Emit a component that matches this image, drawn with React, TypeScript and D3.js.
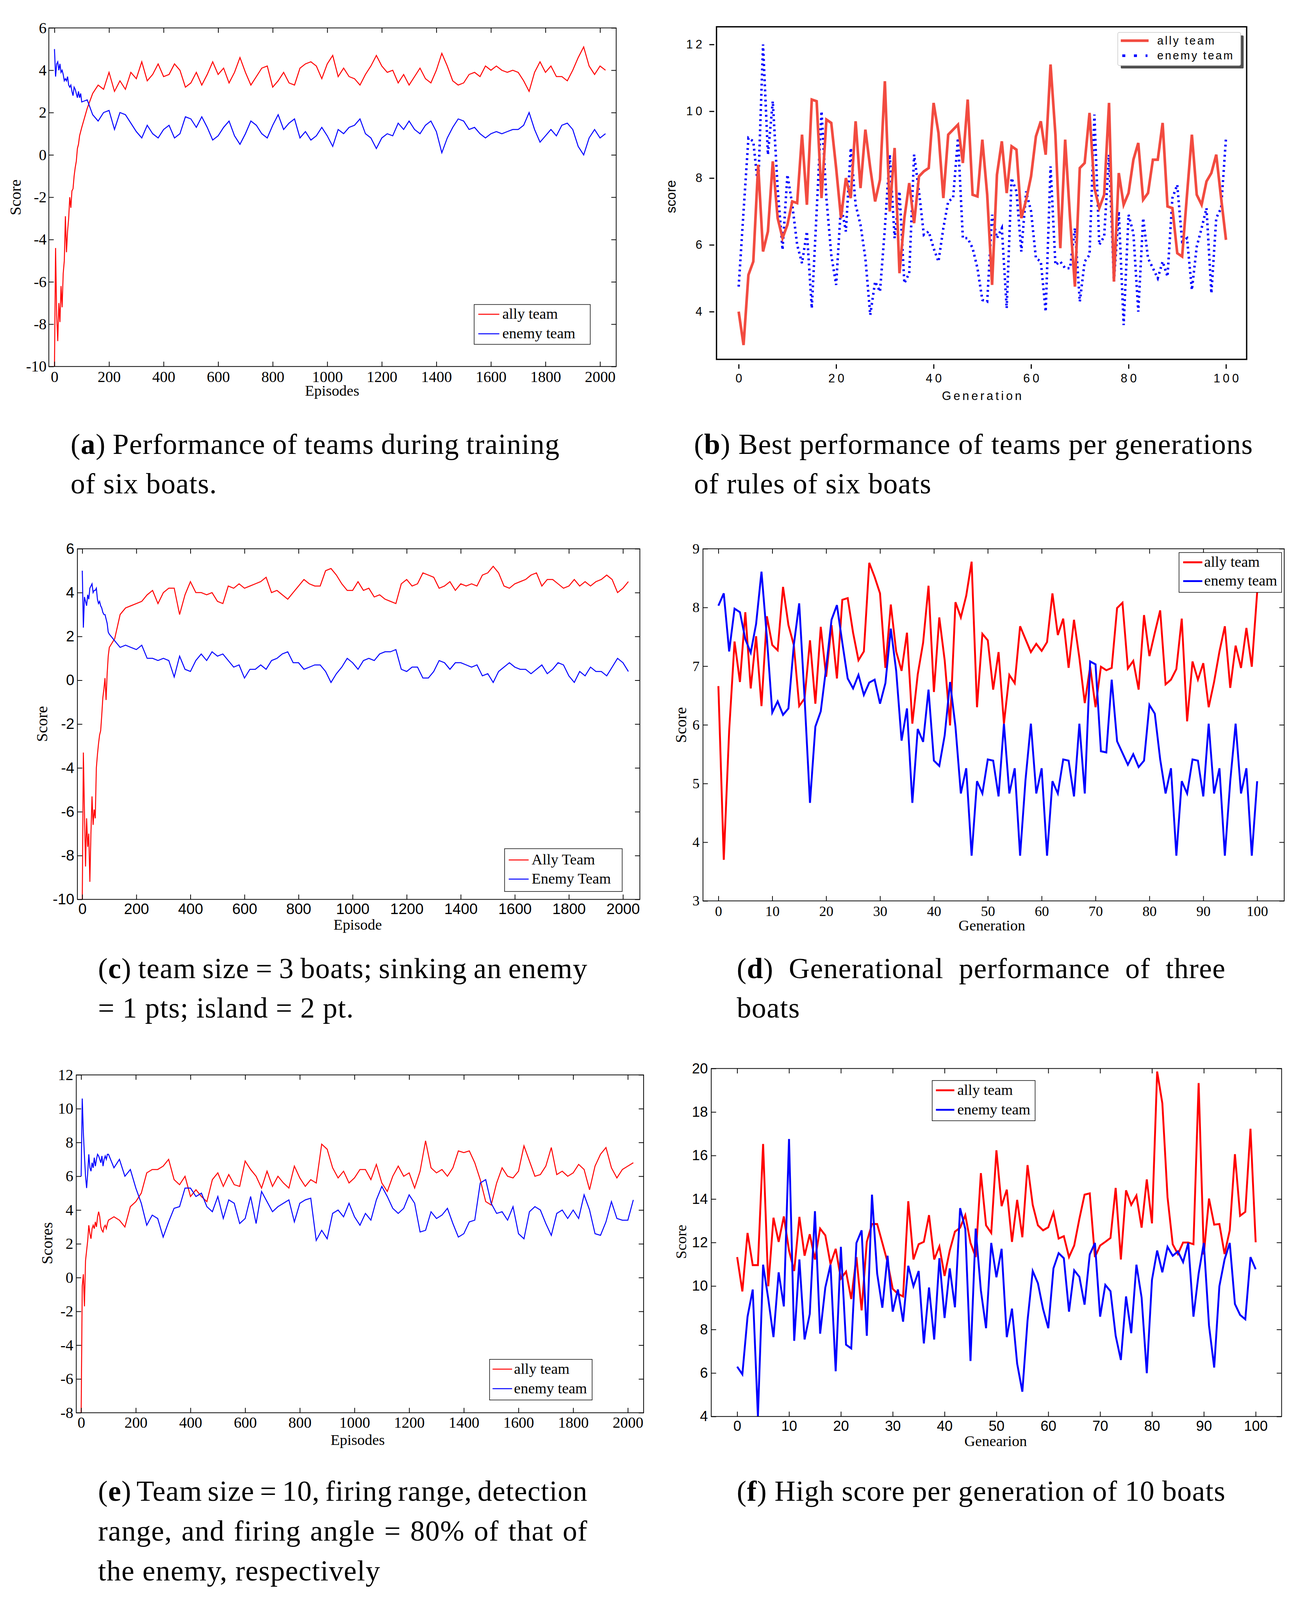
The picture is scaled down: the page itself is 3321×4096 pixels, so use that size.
import React, { useEffect, useRef } from 'react';
import * as d3 from 'd3';

// reference is 3452x4257, drawn through a viewBox into the 3321x4096 window
const REF_W = 3452;
const REF_H = 4257;
const OUT_W = 3321;
const OUT_H = 4096;

const SERIF = '"Liberation Serif", "Times New Roman", Times, serif';
const SANS = '"Liberation Sans", Arial, Helvetica, sans-serif';
const RED = '#ff0000';
const BLUE = '#0000ff';
const B_RED = '#f24b40';

// x positions of the training curves: every 4 episodes at the start, every 20 after
const EPISODES = [...d3.range(0, 100, 4), ...d3.range(100, 2021, 20)];
const GENERATIONS = d3.range(0, 101);

const EPISODE_TICKS = d3.range(0, 2001, 200);
const GEN_TICKS_10 = d3.range(0, 101, 10);
const GEN_TICKS_20 = d3.range(0, 101, 20);
const SCORE_TICKS_A = d3.range(-10, 7, 2);
const SCORE_TICKS_B = [4, 6, 8, 10, 12];
const SCORE_TICKS_D = d3.range(3, 10, 1);
const SCORE_TICKS_E = d3.range(-8, 13, 2);
const SCORE_TICKS_F = d3.range(4, 21, 2);

// (a) six boats training
const A_ALLY = [
  -10, -4.4, -7.6, -8.8, -7.0, -7.9, -6.2, -7.2, -5.6, -5.0, -2.9, -4.6, -3.6,
  -3.0, -2.0, -2.5, -1.7, -1.6, -1.0, -0.6, -0.3, 0.3, 0.5, 0.9, 1.1,
  1.3, 2.2, 2.9, 3.3, 3.1, 3.9, 3.0, 3.5, 3.1, 3.9,
  3.6, 4.4, 3.5, 3.8, 4.3, 3.7, 3.8, 4.3, 4.0, 3.2,
  3.4, 3.9, 3.3, 3.8, 4.4, 3.8, 4.1, 3.4, 3.9, 4.6,
  3.9, 3.3, 3.7, 4.1, 4.2, 3.2, 3.5, 3.9, 3.4, 3.3,
  4.1, 4.3, 4.4, 4.2, 3.6, 4.3, 4.7, 3.7, 4.1, 3.7,
  3.6, 3.3, 3.8, 4.2, 4.7, 4.2, 3.9, 4.0, 3.4, 3.8,
  3.3, 3.7, 4.1, 3.6, 3.4, 4.0, 4.8, 4.2, 3.5, 3.3,
  3.4, 3.8, 3.9, 3.7, 4.2, 4.0, 4.2, 4.0, 3.9, 4.0,
  3.9, 3.5, 3.0, 3.9, 4.4, 3.9, 4.2, 3.7, 3.7, 3.5,
  4.0, 4.6, 5.1, 4.2, 3.8, 4.2, 4.0,
];
const A_ENEMY = [
  5.0, 3.7, 4.3, 4.4, 4.0, 4.3, 3.9, 4.0, 3.8, 3.5, 3.6, 3.5, 3.7,
  3.3, 3.2, 3.3, 3.0, 2.8, 3.2, 3.1, 2.9, 2.7, 3.0, 2.7, 2.9,
  2.5, 2.6, 1.9, 1.6, 2.0, 2.1, 1.2, 2.0, 1.9, 1.5,
  1.1, 0.8, 1.4, 1.0, 0.8, 1.2, 1.4, 0.8, 1.0, 1.8,
  1.7, 1.3, 1.8, 1.3, 0.7, 0.9, 1.3, 1.6, 0.9, 0.5,
  1.0, 1.6, 1.4, 1.0, 0.8, 1.4, 1.9, 1.2, 1.5, 1.7,
  0.8, 1.1, 0.7, 0.9, 1.3, 0.9, 0.4, 1.2, 1.0, 1.3,
  1.4, 1.7, 1.0, 0.8, 0.3, 0.8, 1.0, 0.9, 1.5, 1.2,
  1.6, 1.2, 1.0, 1.4, 1.6, 1.1, 0.1, 0.8, 1.3, 1.7,
  1.6, 1.2, 1.3, 1.0, 0.8, 1.0, 1.1, 1.0, 1.1, 1.2,
  1.2, 1.4, 2.0, 1.2, 0.6, 0.9, 1.2, 0.9, 1.4, 1.5,
  1.2, 0.4, 0.0, 0.8, 1.2, 0.8, 1.0,
];

// (b) best per generation, six boats
const B_ALLY = [
  4.0, 3.0, 5.1, 5.5, 8.4, 5.8, 6.4, 8.5, 6.8, 6.2,
  6.6, 7.3, 7.25, 9.3, 7.2, 10.35, 10.3, 7.4, 9.75, 9.65,
  8.3, 6.8, 8.0, 7.4, 9.7, 7.7, 9.45, 8.3, 7.3, 7.95,
  10.9, 7.0, 8.9, 5.15, 6.8, 7.85, 6.65, 8.05, 8.2, 8.3,
  10.25, 9.35, 7.4, 9.3, 9.45, 9.6, 8.45, 10.35, 7.5, 7.45,
  9.15, 7.5, 4.8, 8.1, 9.1, 7.55, 8.95, 8.85, 6.8, 7.35,
  8.05, 9.25, 9.7, 8.7, 11.4, 9.3, 5.9, 9.15, 6.8, 4.75,
  8.3, 8.45, 9.95, 7.7, 7.1, 7.5, 10.25, 4.9, 8.15, 7.2,
  7.55, 8.55, 9.05, 7.35, 7.55, 8.55, 8.55, 9.65, 7.15, 7.1,
  5.75, 5.65, 7.5, 9.3, 7.5, 7.2, 7.9, 8.15, 8.7, 7.4,
  6.15,
];
const B_ENEMY = [
  4.75, 7.0, 9.2, 9.1, 7.7, 12.0, 8.7, 10.3, 7.7, 5.85,
  8.1, 7.2, 6.0, 5.45, 6.4, 4.1, 7.0, 10.0, 7.4, 5.7,
  4.8, 7.2, 6.4, 8.9, 7.2, 6.6, 5.6, 3.9, 4.9, 4.6,
  6.5, 8.7, 6.2, 7.6, 4.85, 5.15, 8.7, 7.6, 6.3, 6.4,
  5.9, 5.5, 6.5, 7.3, 7.4, 9.2, 6.2, 6.2, 5.9, 5.3,
  4.35, 4.3, 6.9, 6.2, 6.5, 4.1, 8.0, 7.6, 5.8, 7.6,
  7.0, 5.6, 5.5, 4.0, 8.35, 5.4, 5.5, 5.3, 5.3, 6.5,
  4.3, 5.5, 5.7, 9.9, 6.0, 6.25, 8.7, 4.9, 7.0, 3.6,
  6.9, 6.35, 4.0, 6.8, 5.6, 5.3, 5.0, 5.5, 5.05, 7.4,
  7.8, 6.1, 6.2, 4.65, 5.95, 6.5, 7.1, 4.55, 6.8, 7.1,
  9.2,
];

// (c) three boats training
const C_ALLY = [
  -10, -3.3, -6.0, -8.5, -6.3, -7.6, -7.0, -9.2, -7.0, -5.3, -6.6, -5.9, -6.3,
  -4.0, -3.4, -2.9, -2.5, -2.3, -1.6, -0.8, -0.4, 0.1, -0.9, 0.3, 1.1,
  1.5, 1.9, 3.0, 3.3, 3.4, 3.5, 3.6, 3.9, 4.1, 3.5,
  4.0, 4.2, 4.2, 3.0, 3.9, 4.5, 4.0, 4.0, 3.9, 4.0,
  3.6, 3.5, 4.3, 4.2, 4.4, 4.2, 4.3, 4.4, 4.5, 4.7,
  4.0, 4.1, 3.9, 3.7, 4.0, 4.3, 4.6, 4.4, 4.3, 4.3,
  5.0, 5.1, 4.8, 4.4, 4.1, 4.1, 4.5, 4.1, 4.2, 3.8,
  3.9, 3.7, 3.6, 3.5, 4.4, 4.6, 4.3, 4.4, 4.9, 4.8,
  4.7, 4.2, 4.3, 4.5, 4.1, 4.4, 4.3, 4.4, 4.3, 4.8,
  4.9, 5.2, 4.9, 4.3, 4.2, 4.4, 4.5, 4.6, 4.8, 4.9,
  4.3, 4.6, 4.6, 4.4, 4.2, 4.3, 4.6, 4.3, 4.5, 4.3,
  4.5, 4.6, 4.8, 4.6, 4.0, 4.2, 4.5,
];
const C_ENEMY = [
  5.0, 2.4, 3.8, 3.6, 3.4, 3.9, 3.7, 4.2, 4.3, 4.4, 4.0, 4.1, 4.1,
  4.2, 3.7, 3.5, 3.6, 3.4, 3.3, 3.1, 3.0, 3.0, 2.8, 2.6, 2.2,
  2.1, 1.8, 1.5, 1.6, 1.5, 1.4, 1.6, 1.0, 1.0, 0.9,
  1.0, 0.9, 0.15, 1.1, 0.5, 0.4, 0.9, 1.2, 0.9, 1.3,
  1.1, 1.2, 0.9, 0.6, 0.7, 0.1, 0.5, 0.5, 0.7, 0.5,
  0.9, 1.0, 1.2, 1.3, 0.8, 0.8, 0.5, 0.6, 0.7, 0.7,
  0.4, -0.1, 0.3, 0.6, 1.0, 0.8, 0.5, 0.9, 1.0, 0.9,
  1.2, 1.3, 1.3, 1.4, 0.5, 0.4, 0.6, 0.6, 0.1, 0.1,
  0.4, 0.9, 0.8, 0.5, 0.8, 0.8, 0.7, 0.6, 0.7, 0.2,
  0.3, -0.1, 0.4, 0.6, 0.8, 0.6, 0.5, 0.5, 0.3, 0.5,
  0.7, 0.3, 0.5, 0.8, 0.7, 0.2, -0.1, 0.4, 0.2, 0.6,
  0.4, 0.4, 0.2, 0.6, 1.0, 0.8, 0.4,
];

// (d) per generation, three boats
const D_ALLY = [
  6.66, 3.7, 5.9, 7.42, 6.73, 7.92, 6.62, 7.51, 6.32, 7.85,
  7.36, 7.27, 8.35, 7.7, 7.36, 6.32, 6.45, 7.44, 6.36, 7.67,
  6.82, 7.7, 6.79, 8.13, 8.16, 7.57, 7.1, 7.25, 8.76, 8.52,
  8.24, 6.97, 8.05, 7.25, 6.92, 7.57, 6.02, 6.86, 7.4, 8.37,
  6.56, 7.83, 7.1, 5.99, 8.09, 7.83, 8.2, 8.78, 6.3, 7.55,
  7.44, 6.6, 7.24, 6.02, 6.85, 6.71, 7.68, 7.46, 7.24, 7.38,
  7.26, 7.41, 8.24, 7.53, 7.81, 6.97, 7.79, 7.14, 6.37, 6.99,
  6.3, 6.99, 6.93, 6.97, 7.99, 8.08, 6.96, 7.09, 6.6, 7.87,
  7.17, 7.57, 7.95, 6.69, 6.77, 6.95, 7.81, 6.06, 7.08, 6.77,
  7.05, 6.3, 6.73, 7.25, 7.68, 6.63, 7.35, 6.97, 7.65, 6.99,
  8.26,
];
const D_ENEMY = [
  8.03, 8.24, 7.25, 7.98, 7.92, 7.46, 7.23, 7.72, 8.61, 7.49,
  6.21, 6.4, 6.17, 6.28, 7.36, 8.07, 6.45, 4.67, 5.97, 6.23,
  6.97, 7.79, 8.04, 7.4, 6.79, 6.62, 6.85, 6.51, 6.72, 6.77,
  6.36, 6.71, 7.64, 6.92, 5.73, 6.28, 4.67, 5.93, 5.71, 6.6,
  5.39, 5.3, 5.82, 6.73, 5.97, 4.83, 5.26, 3.77, 5.04, 4.83,
  5.41, 5.39, 4.78, 6.02, 4.83, 5.26, 3.77, 5.06, 6.02, 4.83,
  5.26, 3.77, 5.04, 4.83, 5.41, 5.39, 4.78, 6.02, 4.83, 7.08,
  7.03, 5.55, 5.53, 6.77, 5.72, 5.52, 5.32, 5.5, 5.28, 5.39,
  6.34, 6.19, 5.41, 4.83, 5.26, 3.77, 5.04, 4.83, 5.41, 5.39,
  4.78, 6.02, 4.83, 5.26, 3.77, 5.04, 6.02, 4.83, 5.26, 3.77,
  5.04,
];

// (e) ten boats training
const E_ALLY = [
  -8.0, -0.5, 0.2, -1.7, 1.0, 1.6, 2.2, 3.1, 2.6, 2.3, 2.9, 3.1, 2.9,
  3.3, 3.0, 3.6, 3.9, 3.6, 3.0, 2.8, 2.7, 3.0, 3.1, 2.9, 3.2,
  3.4, 3.6, 3.4, 3.0, 4.2, 4.5, 5.0, 6.2, 6.4, 6.4,
  6.6, 7.0, 5.8, 5.5, 6.0, 4.8, 5.2, 4.8, 4.5, 5.8,
  6.2, 5.4, 6.1, 5.5, 5.4, 6.9, 6.4, 6.0, 5.3, 6.3,
  5.4, 6.0, 5.6, 5.3, 6.6, 5.9, 5.4, 5.8, 5.6, 7.9,
  7.6, 6.5, 5.9, 6.3, 5.6, 5.9, 6.4, 6.4, 5.8, 6.7,
  5.6, 5.1, 6.0, 6.6, 6.0, 6.2, 5.3, 6.3, 8.1, 6.5,
  6.2, 6.4, 6.0, 6.5, 7.5, 7.4, 7.5, 6.8, 5.8, 4.5,
  4.3, 5.6, 6.5, 6.0, 5.9, 6.3, 7.8, 6.9, 6.0, 6.1,
  6.6, 7.7, 6.1, 6.3, 6.0, 6.2, 6.7, 6.4, 5.2, 6.6,
  7.3, 7.7, 6.5, 5.9, 6.4, 6.6, 6.8,
];
const E_ENEMY = [
  6.0, 10.6, 8.6, 7.2, 6.0, 5.3, 6.2, 7.3, 6.5, 6.3, 6.8, 6.5, 7.1,
  6.6, 7.0, 7.3, 7.2, 7.0, 6.8, 7.2, 6.6, 7.0, 7.2, 7.0, 7.3,
  7.3, 6.5, 7.0, 6.0, 6.4, 5.3, 4.4, 3.1, 3.7, 3.5,
  2.4, 3.3, 4.1, 4.2, 5.3, 5.3, 4.8, 5.0, 4.2, 3.9,
  4.8, 3.5, 4.6, 4.4, 3.2, 3.5, 4.8, 3.2, 5.1, 4.5,
  3.9, 4.2, 4.4, 4.6, 3.3, 4.4, 4.6, 4.7, 2.2, 2.8,
  2.3, 3.8, 4.0, 3.6, 4.4, 3.6, 3.1, 3.8, 3.4, 4.6,
  5.4, 4.8, 4.1, 3.8, 4.1, 4.9, 4.4, 2.7, 2.8, 3.9,
  3.5, 3.7, 4.1, 3.2, 2.4, 2.6, 3.3, 3.4, 5.6, 5.8,
  4.4, 3.8, 3.9, 3.4, 4.2, 2.6, 2.3, 3.9, 4.2, 4.0,
  3.2, 2.5, 3.8, 4.0, 3.5, 4.0, 3.5, 4.9, 4.0, 2.6,
  2.5, 3.3, 4.5, 3.5, 3.4, 3.4, 4.6,
];

// (f) high score per generation, ten boats
const F_ALLY = [
  11.33, 9.75, 12.44, 10.96, 10.96, 16.53, 9.99, 13.14, 12.03, 13.2,
  11.63, 10.69, 13.18, 11.39, 12.38, 11.22, 12.64, 12.33, 11.01, 11.71,
  10.34, 10.66, 9.4, 11.33, 8.88, 12.03, 12.85, 12.85, 11.98, 11.1,
  9.87, 9.64, 9.52, 13.9, 11.22, 11.92, 12.03, 13.26, 11.22, 11.82,
  10.46, 11.63, 12.5, 12.68, 13.26, 11.98, 11.33, 15.19, 12.79, 12.44,
  16.24, 13.67, 14.43, 12.03, 13.96, 12.24, 15.56, 13.73, 12.79, 12.56,
  12.7, 13.38, 12.18, 12.29, 11.33, 11.86, 13.09, 14.2, 14.26, 11.33,
  11.86, 12.03, 12.21, 14.51, 11.22, 14.4, 13.73, 14.16, 12.68, 14.9,
  12.88, 19.86, 18.4, 14.08, 11.92, 11.47, 12.0, 12.0, 11.92, 19.33,
  11.45, 14.02, 12.82, 12.85, 11.47, 12.56, 16.06, 13.23, 13.41, 17.23,
  12.01,
];
const F_ENEMY = [
  6.29, 5.94, 8.59, 9.84, 4.0, 10.98, 9.41, 7.65, 10.63, 9.06,
  16.76, 7.48, 11.22, 7.54, 8.71, 13.44, 7.81, 9.93, 10.98, 6.08,
  11.8, 7.3, 7.13, 11.98, 12.56, 7.71, 14.2, 10.57, 9.0, 11.39,
  8.82, 9.84, 8.36, 10.93, 9.99, 10.69, 7.36, 9.93, 7.54, 11.28,
  8.53, 10.81, 9.02, 13.58, 12.62, 6.55, 12.64, 9.8, 8.06, 11.98,
  10.4, 11.71, 7.65, 8.96, 6.43, 5.14, 8.41, 10.69, 10.13, 8.94,
  8.06, 10.81, 11.51, 11.28, 8.82, 10.72, 10.42, 9.14, 11.45, 11.98,
  8.59, 10.05, 9.76, 7.71, 6.6, 9.52, 7.83, 10.98, 9.47, 5.99,
  10.28, 11.63, 10.63, 11.8, 11.39, 11.59, 11.1, 11.98, 8.59, 10.57,
  11.98, 8.18, 6.25, 9.99, 11.22, 11.98, 9.17, 8.67, 8.47, 11.33,
  10.77,
];

const CAPTIONS = [
  { tag: 'a', x: 188, baselines: [1208, 1313], right: 1490,
    lines: ['Performance of teams during training', 'of six boats.'] },
  { tag: 'b', x: 1847, baselines: [1208, 1313], right: 3335,
    lines: ['Best performance of teams per generations', 'of rules of six boats'] },
  { tag: 'c', x: 261, baselines: [2602, 2708], right: 1564,
    lines: ['team size = 3 boats; sinking an enemy', '= 1 pts; island = 2 pt.'] },
  { tag: 'd', x: 1961, baselines: [2602, 2708], right: 3262,
    lines: ['Generational performance of three', 'boats'] },
  { tag: 'e', x: 261, baselines: [3993, 4099, 4205], right: 1564,
    lines: ['Team size = 10, firing range, detection', 'range, and firing angle = 80% of that of', 'the enemy, respectively'] },
  { tag: 'f', x: 1961, baselines: [3993], right: 3262,
    lines: ['High score per generation of 10 boats'] },
];

const PANELS = [
  {
    id: 'a', box: [130, 74, 1640, 975], xMap: [0, 145, 2000, 1597], yMap: [-10, 975, 6, 74],
    xTicks: EPISODE_TICKS, yTicks: SCORE_TICKS_A, tickFont: SERIF, tickSize: 41, xPad: 12, yPad: 6,
    series: [
      { name: 'ally team', xs: EPISODES, ys: A_ALLY, color: RED, width: 2.6 },
      { name: 'enemy team', xs: EPISODES, ys: A_ENEMY, color: BLUE, width: 2.6 },
    ],
    legend: { box: [1262, 810, 1571, 916], lineX: [1273, 1329], textX: 1337, rows: [836, 888] },
    yLabel: { text: 'Score', x: 55, y: 525, size: 42 },
    xLabel: { text: 'Episodes', x: 884, y: 1053, size: 40 },
  },
  {
    id: 'c', box: [206, 1460, 1703, 2393], xMap: [0, 219, 2000, 1658], yMap: [-10, 2393, 6, 1460],
    xTicks: EPISODE_TICKS, yTicks: SCORE_TICKS_A, tickFont: SANS, tickSize: 40, xPad: 11, yPad: 8,
    series: [
      { name: 'Ally Team', xs: EPISODES, ys: C_ALLY, color: RED, width: 2.6 },
      { name: 'Enemy Team', xs: EPISODES, ys: C_ENEMY, color: BLUE, width: 2.6 },
    ],
    legend: { box: [1343, 2258, 1656, 2372], lineX: [1354, 1407], textX: 1415, rows: [2288, 2339] },
    yLabel: { text: 'Score', x: 126, y: 1926, size: 42 },
    xLabel: { text: 'Episode', x: 952, y: 2474, size: 40 },
  },
  {
    id: 'd', box: [1871, 1460, 3418, 2397], xMap: [0, 1912, 100, 3346], yMap: [3, 2397, 9, 1460],
    xTicks: GEN_TICKS_10, yTicks: SCORE_TICKS_D, tickFont: SERIF, tickSize: 38, xPad: 13, yPad: 9,
    series: [
      { name: 'ally team', xs: GENERATIONS, ys: D_ALLY, color: RED, width: 5 },
      { name: 'enemy team', xs: GENERATIONS, ys: D_ENEMY, color: BLUE, width: 5 },
    ],
    legend: { box: [3138, 1470, 3411, 1576], lineX: [3149, 3200], textX: 3205, rows: [1496, 1546] },
    yLabel: { text: 'Score', x: 1826, y: 1929, size: 42 },
    xLabel: { text: 'Generation', x: 2640, y: 2476, size: 40 },
  },
  {
    id: 'e', box: [203, 2860, 1713, 3759], xMap: [0, 216, 2000, 1671], yMap: [-8, 3759, 12, 2860],
    xTicks: EPISODE_TICKS, yTicks: SCORE_TICKS_E, tickFont: SERIF, tickSize: 41, xPad: 11, yPad: 8,
    series: [
      { name: 'ally team', xs: EPISODES, ys: E_ALLY, color: RED, width: 2.6 },
      { name: 'enemy team', xs: EPISODES, ys: E_ENEMY, color: BLUE, width: 2.6 },
    ],
    legend: { box: [1303, 3617, 1576, 3725], lineX: [1311, 1363], textX: 1368, rows: [3643, 3695] },
    yLabel: { text: 'Scores', x: 139, y: 3308, size: 42 },
    xLabel: { text: 'Episodes', x: 952, y: 3845, size: 40 },
  },
  {
    id: 'f', box: [1893, 2843, 3411, 3769], xMap: [0, 1962, 100, 3342], yMap: [4, 3769, 20, 2843],
    xTicks: GEN_TICKS_10, yTicks: SCORE_TICKS_F, tickFont: SANS, tickSize: 38, xPad: 11, yPad: 9,
    series: [
      { name: 'ally team', xs: GENERATIONS, ys: F_ALLY, color: RED, width: 5 },
      { name: 'enemy team', xs: GENERATIONS, ys: F_ENEMY, color: BLUE, width: 5 },
    ],
    legend: { box: [2481, 2875, 2755, 2982], lineX: [2491, 2540], textX: 2548, rows: [2901, 2953] },
    yLabel: { text: 'Score', x: 1826, y: 3304, size: 40 },
    xLabel: { text: 'Genearion', x: 2650, y: 3848, size: 40 },
  },
];

const fmt = (d: any) => String(d);

function styleAxis(g: any, font: string, size: number, strokeW: number) {
  g.select('.domain').remove();
  g.attr('font-family', null).attr('font-size', null);
  g.selectAll('line').attr('stroke', '#000').attr('stroke-width', strokeW);
  g.selectAll('text').attr('font-family', font).attr('font-size', size).attr('fill', '#000');
}

function drawMatlab(svg: any, p: any) {
  const [bx0, by0, bx1, by1] = p.box;
  const x = d3.scaleLinear().domain([p.xMap[0], p.xMap[2]]).range([p.xMap[1], p.xMap[3]]);
  const y = d3.scaleLinear().domain([p.yMap[0], p.yMap[2]]).range([p.yMap[1], p.yMap[3]]);
  const tickLen = 13;
  const root = svg.append('g');

  root.append('clipPath').attr('id', `clip-${p.id}`)
    .append('rect').attr('x', bx0).attr('y', by0).attr('width', bx1 - bx0).attr('height', by1 - by0);

  const line = d3.line<[number, number]>().x(d => x(d[0])).y(d => y(d[1]));
  const plot = root.append('g').attr('clip-path', `url(#clip-${p.id})`);
  p.series.forEach((s: any) => {
    plot.append('path')
      .datum(d3.zip(s.xs, s.ys))
      .attr('d', line)
      .attr('fill', 'none')
      .attr('stroke', s.color)
      .attr('stroke-width', s.width)
      .attr('stroke-linejoin', 'miter');
  });

  root.append('g').attr('transform', `translate(0,${by1})`)
    .call(d3.axisBottom(x).tickValues(p.xTicks).tickSize(-tickLen).tickPadding(p.xPad).tickFormat(fmt))
    .call((g: any) => styleAxis(g, p.tickFont, p.tickSize, 2));
  root.append('g').attr('transform', `translate(0,${by0})`)
    .call(d3.axisTop(x).tickValues(p.xTicks).tickSize(-tickLen).tickFormat(() => ''))
    .call((g: any) => styleAxis(g, p.tickFont, p.tickSize, 2));
  root.append('g').attr('transform', `translate(${bx0},0)`)
    .call(d3.axisLeft(y).tickValues(p.yTicks).tickSize(-tickLen).tickPadding(p.yPad).tickFormat(fmt))
    .call((g: any) => styleAxis(g, p.tickFont, p.tickSize, 2));
  root.append('g').attr('transform', `translate(${bx1},0)`)
    .call(d3.axisRight(y).tickValues(p.yTicks).tickSize(-tickLen).tickFormat(() => ''))
    .call((g: any) => styleAxis(g, p.tickFont, p.tickSize, 2));

  root.append('rect')
    .attr('x', bx0).attr('y', by0).attr('width', bx1 - bx0).attr('height', by1 - by0)
    .attr('fill', 'none').attr('stroke', '#000').attr('stroke-width', 2);

  const L = p.legend;
  const lg = root.append('g');
  lg.append('rect')
    .attr('x', L.box[0]).attr('y', L.box[1])
    .attr('width', L.box[2] - L.box[0]).attr('height', L.box[3] - L.box[1])
    .attr('fill', '#fff').attr('stroke', '#000').attr('stroke-width', 1.5);
  p.series.forEach((s: any, i: number) => {
    lg.append('line')
      .attr('x1', L.lineX[0]).attr('x2', L.lineX[1])
      .attr('y1', L.rows[i]).attr('y2', L.rows[i])
      .attr('stroke', s.color).attr('stroke-width', s.width);
    lg.append('text')
      .attr('x', L.textX).attr('y', L.rows[i]).attr('dy', '0.3em')
      .attr('font-family', SERIF).attr('font-size', 40)
      .text(s.name);
  });

  root.append('text')
    .attr('transform', `translate(${p.yLabel.x},${p.yLabel.y}) rotate(-90)`)
    .attr('text-anchor', 'middle')
    .attr('font-family', SERIF).attr('font-size', p.yLabel.size)
    .text(p.yLabel.text);
  root.append('text')
    .attr('x', p.xLabel.x).attr('y', p.xLabel.y)
    .attr('text-anchor', 'middle')
    .attr('font-family', SERIF).attr('font-size', p.xLabel.size)
    .text(p.xLabel.text);
}

function drawPanelB(svg: any) {
  const box = [1907, 71, 3318, 956];
  const x = d3.scaleLinear().domain([0, 100]).range([1966, 3263]);
  const y = d3.scaleLinear().domain([4, 12]).range([829, 118]);
  const root = svg.append('g');

  root.append('clipPath').attr('id', 'clip-b')
    .append('rect').attr('x', box[0]).attr('y', box[1]).attr('width', box[2] - box[0]).attr('height', box[3] - box[1]);

  const line = d3.line<[number, number]>().x(d => x(d[0])).y(d => y(d[1]));
  const plot = root.append('g').attr('clip-path', 'url(#clip-b)');
  plot.append('path')
    .datum(d3.zip(GENERATIONS, B_ENEMY))
    .attr('d', line)
    .attr('fill', 'none')
    .attr('stroke', BLUE)
    .attr('stroke-width', 6.5)
    .attr('stroke-dasharray', '5 8.5');
  plot.append('path')
    .datum(d3.zip(GENERATIONS, B_ALLY))
    .attr('d', line)
    .attr('fill', 'none')
    .attr('stroke', B_RED)
    .attr('stroke-width', 7)
    .attr('stroke-linejoin', 'miter');

  root.append('rect')
    .attr('x', box[0]).attr('y', box[1]).attr('width', box[2] - box[0]).attr('height', box[3] - box[1])
    .attr('fill', 'none').attr('stroke', '#000').attr('stroke-width', 3.5);

  root.append('g').attr('transform', 'translate(0,969)')
    .call(d3.axisBottom(x).tickValues(GEN_TICKS_20).tickSize(12).tickPadding(14).tickFormat(fmt))
    .call((g: any) => styleAxis(g, SANS, 32, 3))
    .call((g: any) => g.selectAll('text').attr('letter-spacing', 7).attr('dx', 3.5));
  root.append('g').attr('transform', 'translate(1901,0)')
    .call(d3.axisLeft(y).tickValues(SCORE_TICKS_B).tickSize(13).tickPadding(12).tickFormat(fmt))
    .call((g: any) => styleAxis(g, SANS, 32, 3))
    .call((g: any) => g.selectAll('text').attr('letter-spacing', 7));

  root.append('text')
    .attr('transform', 'translate(1798,523) rotate(-90)')
    .attr('text-anchor', 'middle')
    .attr('font-family', SANS).attr('font-size', 36)
    .text('score');
  root.append('text')
    .attr('x', 2616).attr('y', 1064)
    .attr('text-anchor', 'middle')
    .attr('font-family', SANS).attr('font-size', 32).attr('letter-spacing', 6)
    .text('Generation');

  // legend with drop shadow
  const lg = root.append('g');
  lg.append('rect').attr('x', 2983).attr('y', 94).attr('width', 327).attr('height', 88)
    .attr('rx', 3).attr('fill', '#4d4d4d');
  lg.append('rect').attr('x', 2975).attr('y', 86).attr('width', 327).attr('height', 88)
    .attr('rx', 4).attr('fill', '#fff').attr('stroke', '#c8c8c8').attr('stroke-width', 1.5);
  lg.append('line').attr('x1', 2983).attr('x2', 3057).attr('y1', 108).attr('y2', 108)
    .attr('stroke', B_RED).attr('stroke-width', 7);
  lg.append('line').attr('x1', 2987).attr('x2', 3054).attr('y1', 148).attr('y2', 148)
    .attr('stroke', BLUE).attr('stroke-width', 7).attr('stroke-dasharray', '8 23');
  [['ally team', 118], ['enemy team', 158]].forEach(([t, yy]) => {
    lg.append('text').attr('x', 3080).attr('y', yy)
      .attr('font-family', SANS).attr('font-size', 30).attr('letter-spacing', 4)
      .text(t as string);
  });
}

function drawCaptions(svg: any) {
  const size = 77;
  CAPTIONS.forEach(c => {
    c.lines.forEach((text, i) => {
      const t = svg.append('text')
        .attr('x', c.x).attr('y', c.baselines[i])
        .attr('font-family', SERIF).attr('font-size', size).attr('fill', '#000')
        .attr('letter-spacing', 1.2)
        .attr('xml:space', 'preserve');
      let full = text;
      if (i === 0) {
        t.append('tspan').text('(');
        t.append('tspan').attr('font-weight', 'bold').text(c.tag);
        t.append('tspan').text(') ' + text);
        full = `(${c.tag}) ${text}`;
      } else {
        t.text(text);
      }
      // every line but the last of a paragraph is justified to the sub-figure width
      const isLast = i === c.lines.length - 1 && c.lines.length > 1;
      if (!isLast) {
        const w = (t.node() as SVGTextElement).getBBox().width;
        const spaces = full.split(' ').length - 1;
        const target = c.right - c.x;
        if (spaces > 0) t.style('word-spacing', `${(target - w) / spaces}px`);
      }
    });
  });
}

export default function App() {
  const svgRef = useRef<SVGSVGElement>(null);

  useEffect(() => {
    if (!svgRef.current) return;
    const svg = d3.select(svgRef.current);
    svg.selectAll('*').remove();
    svg.append('rect').attr('width', REF_W).attr('height', REF_H).attr('fill', '#fff');

    PANELS.forEach(p => drawMatlab(svg, p));
    drawPanelB(svg);
    drawCaptions(svg);
  }, []);

  return (
    <svg
      ref={svgRef}
      width={OUT_W}
      height={OUT_H}
      viewBox={`0 0 ${REF_W} ${REF_H}`}
      style={{ position: 'absolute', left: 0, top: 0, display: 'block', background: '#fff' }}
    />
  );
}
